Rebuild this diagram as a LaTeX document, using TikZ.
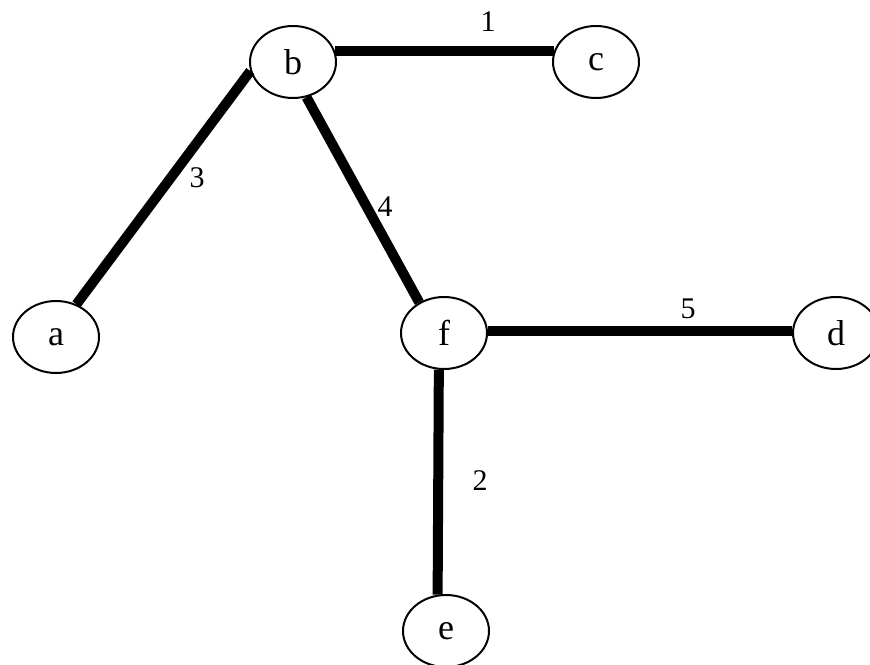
\documentclass[tikz,border=0pt]{standalone}
\usepackage{fontspec}
\setmainfont{Liberation Serif}
\usetikzlibrary{shapes.geometric}
\newcommand{\vlab}[1]{\raisebox{-3pt}{#1}}
\begin{document}
\begin{tikzpicture}[x=1pt,y=-1pt,
  vtx/.style={ellipse,draw,line width=2pt,inner sep=0pt,minimum width=86pt,minimum height=72pt,font=\fontsize{36}{42}\selectfont},
  edge/.style={line width=10pt},
  wlab/.style={font=\fontsize{30}{36}\selectfont,inner sep=0pt}]
\useasboundingbox (0,0) rectangle (870,664);
\node[vtx] (b) at (293,62) {\vlab{b}};
\node[vtx] (c) at (596,62) {\vlab{c}};
\node[vtx] (a) at (56,337) {\vlab{a}};
\node[vtx] (f) at (444,333) {\vlab{f}};
\node[vtx] (d) at (836,333) {\vlab{d}};
\node[vtx] (e) at (446,631) {\vlab{e}};
\draw[edge] (b.15) -- (c.165);
\draw[edge] (b.192) -- (a.58);
\draw[edge] (b.291) -- (f.129);
\draw[edge] (f.3) -- (d.177);
\draw[edge] (f.262) -- (e.103);
\node[wlab] (l1) at (488,22) {1};
\node[wlab] (l3) at (197,178) {3};
\node[wlab] (l4) at (385,207) {4};
\node[wlab] (l5) at (688,309) {5};
\node[wlab] (l2) at (480,481) {2};
\end{tikzpicture}
\end{document}
